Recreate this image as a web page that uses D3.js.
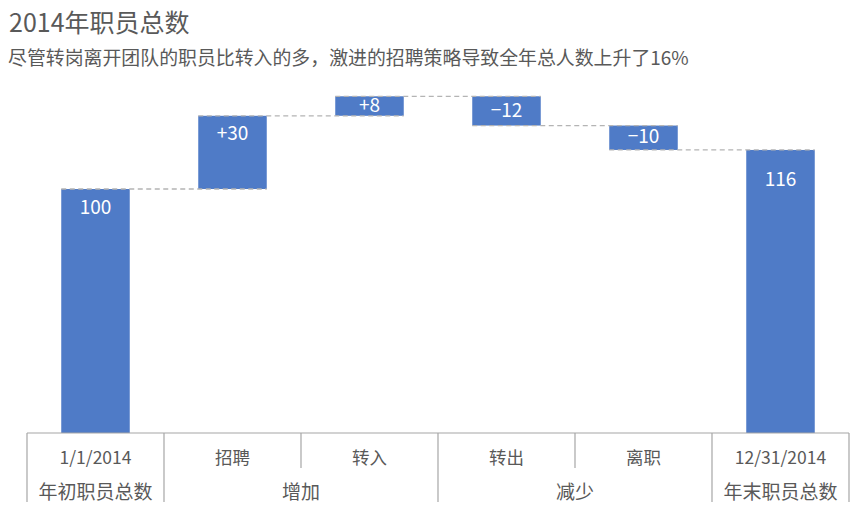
<!DOCTYPE html>
<html>
<head>
<meta charset="utf-8">
<script src="https://cdn.jsdelivr.net/npm/d3@7"></script>
<style>
    body { margin: 0; background: #fff; }
    svg { display: block; font-family: "Noto Sans CJK SC", "Noto Sans", sans-serif; }
</style>
</head>
<body>
<div id="chart"></div>
<script>
// chart data
const categories = ["1/1/2014", "招聘", "转入", "转出", "离职", "12/31/2014"];
const groups = ["年初职员总数", "增加", "增加", "减少", "减少", "年末职员总数"];
const values = [100, 30, 8, -12, -10, 116];
const isTotal = [true, false, false, false, false, true];
const labels = ["100", "+30", "+8", "\u221212", "\u221210", "116"];

const title = "2014年职员总数";
const subtitle = "尽管转岗离开团队的职员比转入的多，激进的招聘策略导致全年总人数上升了16%";

const width = 856, height = 505;
const left = 27, right = 849, base = 433;
const textColor = "#595959", barColor = "#4f7bc7", lineColor = "#b4b4b4";

const svg = d3.select("#chart").append("svg")
    .attr("width", width)
    .attr("height", height);

svg.append("text")
    .attr("x", 9).attr("y", 32)
    .attr("font-size", 25)
    .attr("fill", textColor)
    .text(title);

svg.append("text")
    .attr("x", 8).attr("y", 65)
    .attr("font-size", 18.9)
    .attr("fill", textColor)
    .text(subtitle);

// running totals -> bar start/end
let run = 0;
const bars = values.map((v, i) => {
    let y0, y1;
    if(isTotal[i]) { y0 = 0; y1 = v; run = v; }
    else { y0 = run; y1 = run + v; run = y1; }
    return { cat: categories[i], y0: y0, y1: y1, label: labels[i] };
});

const x = d3.scaleBand()
    .domain(categories)
    .range([left, right])
    .paddingInner(0.5)
    .paddingOuter(0.25);

const y = d3.scaleLinear()
    .domain([0, 140])
    .range([base, base - 244 * 1.4]);

svg.append("g")
    .selectAll("rect")
    .data(bars)
    .join("rect")
    .attr("x", d => x(d.cat))
    .attr("width", x.bandwidth())
    .attr("y", d => y(Math.max(d.y0, d.y1)))
    .attr("height", d => Math.abs(y(d.y0) - y(d.y1)))
    .attr("fill", barColor);

// connectors between bars
const links = d3.range(bars.length - 1).map(i => ({
    x1: x(bars[i].cat),
    x2: x(bars[i + 1].cat) + x.bandwidth(),
    v: bars[i].y1
}));

svg.append("g")
    .attr("stroke", lineColor)
    .attr("stroke-width", 1.3)
    .attr("stroke-dasharray", "5,3.5")
    .selectAll("line")
    .data(links)
    .join("line")
    .attr("x1", d => d.x1)
    .attr("x2", d => d.x2)
    .attr("y1", d => y(d.v))
    .attr("y2", d => y(d.v));

svg.append("g")
    .selectAll("text")
    .data(bars)
    .join("text")
    .attr("x", d => x(d.cat) + x.bandwidth() / 2)
    .attr("y", (d, i) => {
        const top = y(Math.max(d.y0, d.y1)), bot = y(Math.min(d.y0, d.y1));
        const off = i == bars.length - 1 ? 29 : 18;
        return Math.min(top + off, (top + bot) / 2 - 1);
    })
    .attr("dy", "0.35em")
    .attr("text-anchor", "middle")
    .attr("font-size", 19)
    .attr("fill", "#fff")
    .text(d => d.label);

// category axis
const step = x.step();
const axis = svg.append("g").attr("stroke", "#a6a6a6").attr("stroke-width", 1.2);

axis.append("line")
    .attr("x1", left).attr("x2", right)
    .attr("y1", base).attr("y2", base);

const edges = d3.range(categories.length + 1).map(i => left + i * step);
axis.selectAll("line.sep")
    .data(edges)
    .join("line")
    .attr("class", "sep")
    .attr("x1", d => d).attr("x2", d => d)
    .attr("y1", base)
    .attr("y2", (d, i) => {
        if(i == 0 || i == categories.length) return 502;
        return groups[i] == groups[i - 1] ? 468 : 502;
    });

svg.append("g")
    .selectAll("text")
    .data(categories)
    .join("text")
    .attr("x", d => x(d) + x.bandwidth() / 2)
    .attr("y", 458)
    .attr("dy", "0.35em")
    .attr("text-anchor", "middle")
    .attr("font-size", 17.5)
    .attr("fill", textColor)
    .text(d => d);

// group labels span their categories
const groupSpans = [];
groups.forEach((g, i) => {
    const last = groupSpans[groupSpans.length - 1];
    if(last && last.name == g) last.end = i;
    else groupSpans.push({ name: g, start: i, end: i });
});

svg.append("g")
    .selectAll("text")
    .data(groupSpans)
    .join("text")
    .attr("x", d => left + (d.start + d.end + 1) / 2 * step)
    .attr("y", 492)
    .attr("dy", "0.35em")
    .attr("text-anchor", "middle")
    .attr("font-size", 19)
    .attr("fill", textColor)
    .text(d => d.name);
</script>
</body>
</html>
